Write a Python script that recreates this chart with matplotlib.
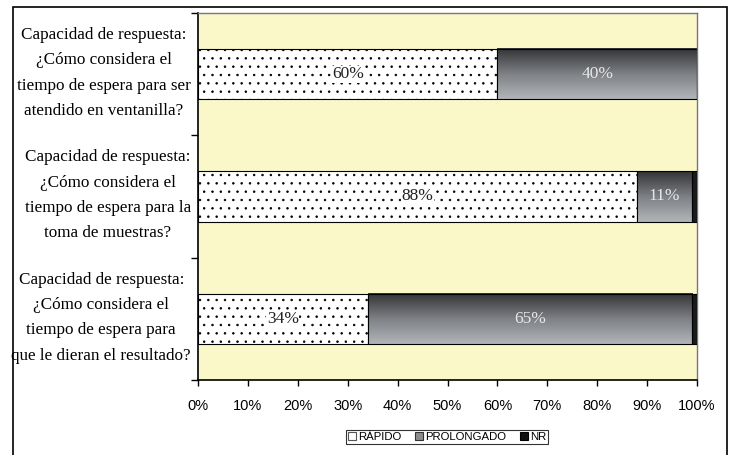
import numpy as np
import matplotlib.pyplot as plt
from matplotlib.patches import Rectangle
from matplotlib.colors import LinearSegmentedColormap

# Datos de la encuesta (porcentajes)
preguntas = ["Capacidad de respuesta:\n¿Cómo considera el\ntiempo de espera para ser\natendido en ventanilla?",
             "Capacidad de respuesta:\n¿Cómo considera el\ntiempo de espera para la\ntoma de muestras?",
             "Capacidad de respuesta:\n¿Cómo considera el\ntiempo de espera para\nque le dieran el resultado?"]
rapido = [60, 88, 34]
prolongado = [40, 11, 65]
nr = [0, 1, 1]
ticks_x = [0, 10, 20, 30, 40, 50, 60, 70, 80, 90, 100]

plt.rcParams["hatch.linewidth"] = 0.55

fig = plt.figure(figsize=(7.31, 4.55), dpi=100)
ax = fig.add_axes([198 / 731, 75 / 455, 499 / 731, 367 / 455])
ax.set_facecolor("#faf7c8")

y = np.arange(len(preguntas))
alto = 0.41

# RÁPIDO: blanco punteado
ax.barh(y, rapido, height=alto, color="white", edgecolor="black",
        hatch="..", linewidth=0.8, zorder=2)

# PROLONGADO: degradado gris vertical
grad = np.linspace(0, 1, 64).reshape(-1, 1)
cmap_gris = LinearSegmentedColormap.from_list("g", ["#333436", "#7d8084", "#b2b5b8"])
for i in range(len(y)):
    izq = rapido[i]
    ax.imshow(grad, cmap=cmap_gris,
              extent=(izq, izq + prolongado[i], y[i] + alto / 2, y[i] - alto / 2),
              aspect="auto", zorder=2, interpolation="bilinear")
ax.barh(y, prolongado, left=rapido, height=alto, color="none",
        edgecolor="black", linewidth=0.8, zorder=3)

# NR
izq_nr = [a + b for a, b in zip(rapido, prolongado)]
ax.barh(y, nr, left=izq_nr, height=alto, color="#1a1a1a",
        edgecolor="black", linewidth=0.8, zorder=3)

# etiquetas de porcentaje
for i in range(len(y)):
    ax.text(rapido[i] / 2, y[i], "%d%%" % rapido[i], ha="center", va="center",
            fontsize=12.5, family="Liberation Serif", color="#222222", zorder=4,
            bbox=dict(facecolor="white", edgecolor="none", pad=0.3))
    ax.text(rapido[i] + prolongado[i] / 2, y[i], "%d%%" % prolongado[i],
            ha="center", va="center", fontsize=12.5, family="Liberation Serif",
            color="#e6e6e6", zorder=4)

ax.set_xlim(0, 100)
ax.set_ylim(2.5, -0.5)
ax.set_xticks(ticks_x)
ax.set_xticklabels(["%d%%" % t for t in ticks_x], family="Liberation Sans", fontsize=10.5)
ax.tick_params(axis="x", direction="out", length=4, width=1, pad=10)

ax.set_yticks([-0.5, 0.5, 1.5, 2.5])
ax.set_yticklabels([])
ax.tick_params(axis="y", which="major", direction="out", length=5, width=1)
ax.set_yticks(y - 0.065, minor=True)
ax.set_yticklabels(preguntas, minor=True, family="Liberation Serif", fontsize=12.3,
                   multialignment="center", linespacing=1.78)
ax.tick_params(axis="y", which="minor", length=0, pad=5)

for lado in ["left", "bottom"]:
    ax.spines[lado].set_color("black")
    ax.spines[lado].set_linewidth(1.2)
for lado in ["top", "right"]:
    ax.spines[lado].set_color("#777777")
    ax.spines[lado].set_linewidth(1.0)

# leyenda
h1 = Rectangle((0, 0), 1, 1, facecolor="white", edgecolor="#555555", linewidth=0.8)
h2 = Rectangle((0, 0), 1, 1, facecolor="#8a8c8f", edgecolor="#333333", linewidth=0.8)
h3 = Rectangle((0, 0), 1, 1, facecolor="#111111", edgecolor="black", linewidth=0.8)
leg = fig.legend([h1, h2, h3], ["RÁPIDO", "PROLONGADO", "NR"], loc="center",
                 bbox_to_anchor=(447 / 731, 18 / 455), ncol=3,
                 prop={"family": "Liberation Sans", "size": 8.2},
                 frameon=True, fancybox=False, handlelength=0.7, handleheight=0.7,
                 handletextpad=0.2, columnspacing=1.2, borderpad=0.15)
leg.get_frame().set_edgecolor("black")
leg.get_frame().set_linewidth(0.8)

# marco exterior
fig.patches.append(Rectangle((13 / 731, -0.1), 714 / 731, 0.1 + 448 / 455,
                             transform=fig.transFigure, fill=False,
                             edgecolor="black", linewidth=1.2))

fig.savefig("out.png", dpi=100)
